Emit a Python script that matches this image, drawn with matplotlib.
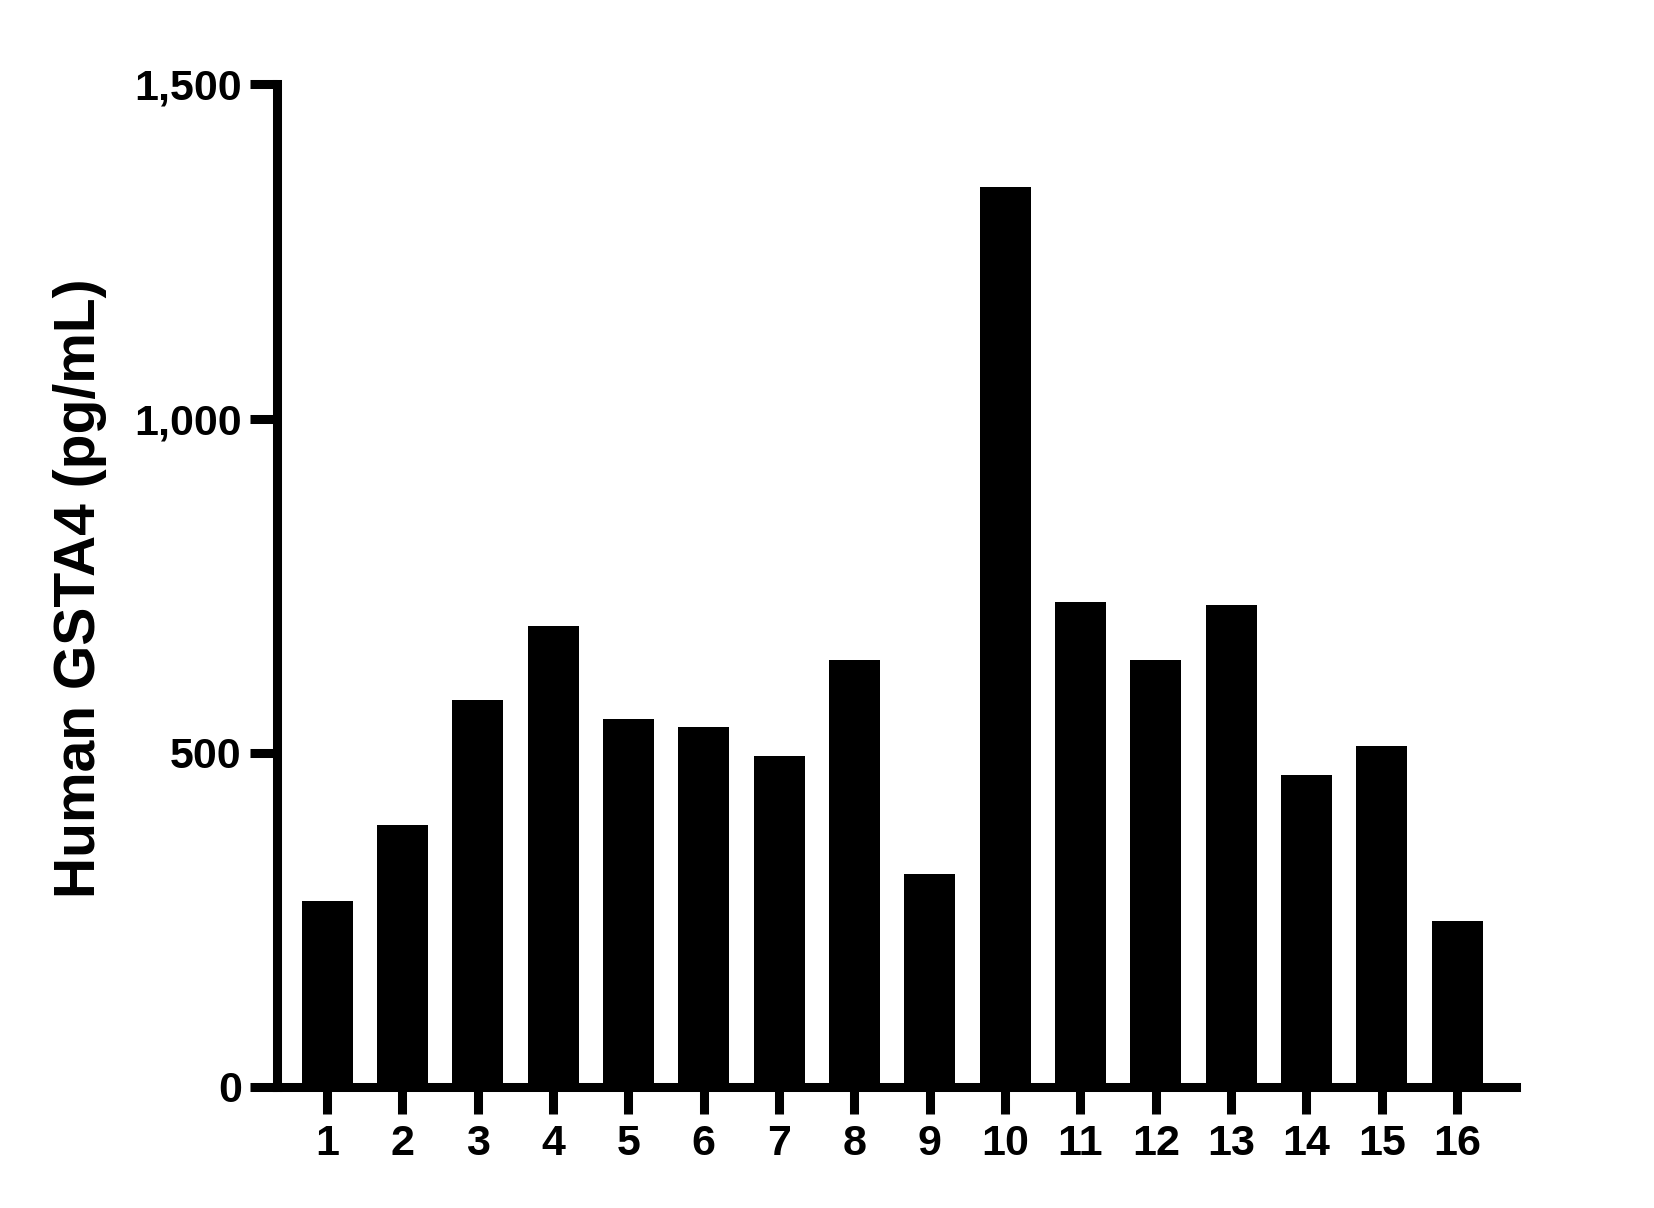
import matplotlib.pyplot as plt
from matplotlib.ticker import FuncFormatter

plt.rcParams['font.family'] = ['Liberation Sans', 'DejaVu Sans']
plt.rcParams['font.weight'] = 'bold'

# samples 1-16 and their GSTA4 levels
samples = list(range(1, 17))
values = [278, 392, 579, 689, 550, 538, 495, 639, 318, 1346, 725, 639, 721, 467, 510, 248]
yticks = [0, 500, 1000, 1500]
ylabel = 'Human GSTA4 (pg/mL)'

fig = plt.figure(figsize=(16.54, 12.08), dpi=100)
ax = fig.add_axes([0.1675, 0.1002, 0.7488, 0.830])

ax.bar(samples, values, width=0.677, color='black', edgecolor='none', zorder=1)

ax.set_xlim(0.336, 16.776)
ax.set_ylim(0, 1500)
ax.set_xticks(samples)
ax.set_xticklabels([str(s) for s in samples])
ax.set_yticks(yticks)
ax.yaxis.set_major_formatter(FuncFormatter(lambda v, p: f'{int(v):,}'))

for side in ['top', 'right']:
    ax.spines[side].set_visible(False)
for side in ['left', 'bottom']:
    ax.spines[side].set_linewidth(6.5)
    ax.spines[side].set_zorder(3)

ax.tick_params(axis='both', direction='out', length=19.5, width=6.5, labelsize=31)
ax.tick_params(axis='y', pad=6)
ax.tick_params(axis='x', pad=7)
for lab in ax.get_xticklabels() + ax.get_yticklabels():
    lab.set_fontweight('bold')

fig.text(80 / 1654, 0.513, ylabel, rotation=90, ha='center', va='center',
         fontsize=41, fontweight='bold')

fig.savefig('out.png', dpi=100)
